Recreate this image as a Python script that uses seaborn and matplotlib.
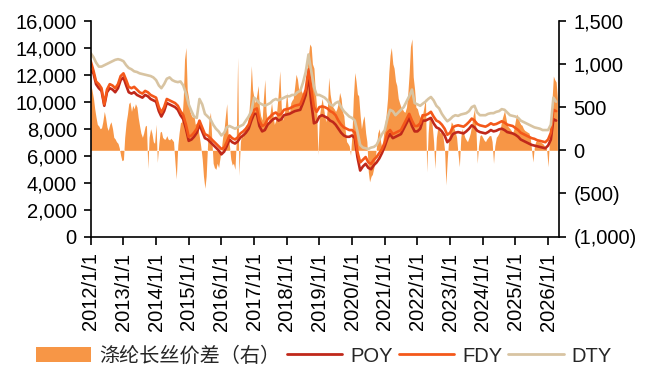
import numpy as np
import pandas as pd
import matplotlib
matplotlib.use("Agg")
import matplotlib.pyplot as plt
import matplotlib.dates as mdates
from matplotlib.ticker import FuncFormatter, MultipleLocator
from matplotlib.patches import Patch
from matplotlib.lines import Line2D
import seaborn as sns

# Monthly prices (yuan/ton), Jan 2012 - Apr 2026, one row per year
poy = [
    12300, 12100, 11300, 11000, 10800, 9700, 10700, 11000, 10900, 10700, 11000, 11600,
    11800, 11200, 10700, 10600, 10700, 10500, 10400, 10300, 10500, 10400, 10200, 10100,
    10000, 9300, 8900, 9300, 9900, 9800, 9700, 9600, 9400, 9000, 8700, 8000,
    7100, 7200, 7400, 7700, 8300, 7800, 7300, 7200, 7000, 6800, 6600, 6400,
    6100, 6300, 6700, 7200, 7000, 6900, 7050, 7350, 7500, 7700, 8000, 8600,
    9100, 9100, 8200, 7800, 7900, 8300, 8500, 8700, 8800, 8600, 8700, 9000,
    9050, 9100, 9200, 9300, 9350, 9400, 9900, 10500, 12000, 10000, 8400, 8500,
    8900, 9000, 8900, 8800, 8600, 8500, 8300, 8000, 7700, 7500, 7400, 7400,
    7500, 7300, 5900, 4900, 5200, 5400, 5100, 5000, 5300, 5500, 5800, 6200,
    6700, 7300, 7600, 7300, 7400, 7500, 7600, 8000, 8400, 8800, 8200, 7800,
    7800, 8000, 8600, 8600, 8700, 8800, 8400, 8100, 8000, 7800, 7500, 7000,
    7200, 7600, 7700, 7750, 7700, 7650, 7800, 8000, 8250, 8100, 7850, 7750,
    7700, 7650, 7750, 7900, 7800, 7850, 7950, 8000, 7900, 7750, 7700, 7650,
    7550, 7400, 7200, 7100, 7000, 6900, 6800, 6750, 6700, 6650, 6600, 6550,
    6750, 7200, 8700, 8600,
]
fdy = [
    13000, 12300, 11500, 11300, 11000, 9800, 10900, 11300, 11200, 11000, 11300, 11900,
    12100, 11600, 11100, 11000, 11100, 10900, 10700, 10600, 10800, 10700, 10500, 10400,
    10300, 9600, 9200, 9600, 10200, 10100, 10000, 9900, 9700, 9300, 9000, 8300,
    7400, 7500, 7700, 8000, 8600, 8100, 7600, 7500, 7300, 7100, 6900, 6700,
    6500, 6600, 7000, 7500, 7300, 7200, 7350, 7650, 7800, 8000, 8300, 8900,
    9400, 9500, 8600, 8200, 8300, 8700, 8900, 9100, 9200, 9000, 9100, 9400,
    9450, 9500, 9600, 9700, 9750, 9800, 10300, 10900, 12400, 11000, 9600, 9250,
    9600, 9650, 9600, 9500, 9300, 9200, 9000, 8600, 8300, 8100, 8000, 7900,
    7900, 7700, 6300, 5500, 5700, 5900, 5500, 5400, 5700, 5900, 6200, 6500,
    7000, 7700, 7900, 7600, 7700, 7800, 7900, 8300, 8700, 9100, 8600, 8200,
    8200, 8400, 9000, 9000, 9100, 9250, 8900, 8600, 8500, 8300, 8000, 7550,
    7700, 8100, 8200, 8250, 8200, 8150, 8300, 8500, 8750, 8600, 8350, 8250,
    8200, 8150, 8250, 8400, 8300, 8350, 8450, 8550, 8450, 8300, 8250, 8200,
    8050, 7900, 7700, 7600, 7500, 7400, 7300, 7250, 7150, 7100, 7050, 7000,
    7200, 7700, 9400, 9300,
]
dty = [
    13600, 13300, 12900, 12600, 12600, 12700, 12800, 12900, 13000, 13100, 13150, 13100,
    13000, 12700, 12500, 12400, 12250, 12200, 12100, 12050, 12000, 11950, 11900, 11800,
    11600, 11200, 11000, 11300, 11700, 11800, 11600, 11500, 11450, 11500, 11200, 10600,
    9800, 9300, 8900, 8800, 10200, 9800, 9100, 8900, 8700, 8300, 8000, 7800,
    7500, 7700, 8100, 8200, 8100, 8000, 8100, 8200, 8300, 8600, 8900, 9300,
    10300, 10100, 9900, 9800, 9700, 9800, 9900, 10100, 10200, 10100, 10200, 10300,
    10400, 10400, 10500, 10500, 10700, 10800, 11400, 12200, 13500, 12300, 11100, 10500,
    10500, 10400, 10300, 10100, 9800, 9700, 9900, 10000, 9600, 9300, 9100, 8900,
    8800, 8600, 7800, 6800, 6600, 6550, 6500, 6600, 6650, 6800, 7200, 7600,
    7900, 8800, 9400, 9300, 9000, 9200, 9400, 9600, 10000, 10400, 10900, 9900,
    9800, 9700, 9850, 10000, 10200, 10350, 10100, 9700, 9500, 9100, 8800, 8550,
    8700, 8900, 9000, 8950, 9050, 9100, 9150, 9300, 9600, 9700, 9200, 9000,
    9000, 9000, 9100, 9150, 9150, 9250, 9300, 9450, 9400, 9200, 9000, 8950,
    8900, 8800, 8600, 8500, 8400, 8300, 8200, 8100, 8050, 8000, 7900, 7900,
    7900, 8300, 10300, 10000,
]

# Filament price spread (right axis), twice a month, Jan 2012 - Apr 2026
spread = [
    760, 700, 600, 480, 380, 300, 280, 250, 260, 330, 450, 380, 270, 230, 300, 330, 250, 150, 130, 100, 80, 30, -60, -120,
    -110, 150, 330, 420, 540, 560, 450, 520, 480, 540, 500, 380, 280, 200, 150, 200, 280, 290, -210, 150, 250, 200, 100, 80,
    300, -140, 80, 210, 220, 150, 130, 130, 170, 130, 120, 140, 120, 100, -150, -330, 60, 200, 320, 330, 600, 1050, 1190, 700,
    600, 450, 400, 380, 400, 300, 320, 250, 150, 50, -100, -300, -440, -300, 100, 350, 440, 150, -150, -200, -220, -150, -200, -100,
    20, 150, 250, 400, 540, 200, 50, -100, -170, -150, -220, 100, 1075, -290, 100, 200, 150, 250, 290, 300, 400, 600, 980, 700,
    600, 550, 650, 750, 500, 400, 350, 600, 820, 450, 300, 350, 450, 550, 400, 300, 350, 500, 700, 920, 500, 350, 400, 500,
    670, 500, 430, 550, 580, 600, 750, 880, 820, 700, 730, 680, 650, 630, 700, 900, 1100, 1230, 1200, 1000, 950, 700, 500, -50,
    400, 500, 600, 500, 400, 330, 500, 845, 650, 560, 500, 480, 450, 480, 550, 670, 600, 450, 400, 250, 100, 80, 50, -58,
    200, 600, 900, 800, 650, 630, 400, 250, 350, 400, 200, 100, -250, -365, -300, -280, -200, -100, 50, 200, 250, 100, 20, 150,
    300, 400, 600, 900, 1100, 1190, 1000, 950, 800, 750, 600, 550, 500, 480, 450, 440, 500, 650, 900, 1200, 1290, 850, 700, 500,
    480, 420, 380, 400, 420, 500, 600, -250, 200, 400, 350, 290, 100, -211, 150, 250, 230, 200, 210, 150, 0, -400, -100, 100,
    250, 330, 300, 250, 210, 150, -50, -190, 150, 250, 200, 150, 120, 100, 150, 200, 300, 400, 480, 300, -150, 50, 170, 180,
    150, 120, 100, 130, 150, 170, 170, 100, -150, 50, 150, 170, 200, 250, 350, 400, 460, 380, 290, 270, 250, 230, 200, 250,
    350, 420, 380, 330, 300, 290, 250, 230, 220, 210, 200, 150, 0, -135, 50, 100, 120, 100, 100, 90, 80, 60, 40, 20,
    -190, 100, 300, 600, 860, 820, 790, 600,
]

series_names = ["POY", "FDY", "DTY"]
spread_label = "涤纶长丝价差（右）"
colors = {"POY": "#C0281A", "FDY": "#F4581A", "DTY": "#D8C4A2"}
spread_color = "#F79646"

months = pd.date_range("2012-01-01", periods=len(poy), freq="MS")
half_months = pd.date_range("2012-01-01", periods=len(spread), freq="SMS")

prices = pd.DataFrame({"date": months, "POY": poy, "FDY": fdy, "DTY": dty})
long_prices = prices.melt(id_vars="date", var_name="series", value_name="price")

sns.set_style("ticks")
plt.rcParams["font.family"] = ["Liberation Sans", "Noto Sans CJK SC", "DejaVu Sans"]

fig = plt.figure(figsize=(6.54, 3.67), dpi=100)
ax = fig.add_axes([90.7 / 654, 1 - 236.7 / 367, (559 - 90.7) / 654, 216 / 367])
ax2 = ax.twinx()

# Spread area on the right axis, behind the price lines
ax2.fill_between(half_months, 0, spread, color=spread_color, linewidth=0, zorder=1)
ax2.set_ylim(-1000, 1500)
ax2.yaxis.set_major_locator(MultipleLocator(500))
ax2.yaxis.set_major_formatter(
    FuncFormatter(lambda v, _: f"({abs(int(v)):,})" if v < 0 else f"{int(v):,}")
)

ax.set_zorder(ax2.get_zorder() + 1)
ax.patch.set_visible(False)
sns.lineplot(data=long_prices, x="date", y="price", hue="series",
             hue_order=series_names, palette=colors, linewidth=1.9,
             legend=False, ax=ax)
ax.set_ylim(0, 16000)
ax.yaxis.set_major_locator(MultipleLocator(2000))
ax.yaxis.set_major_formatter(FuncFormatter(lambda v, _: f"{int(v):,}"))
ax.set_xlim(pd.Timestamp("2012-01-01"), pd.Timestamp("2026-05-03"))
ax.xaxis.set_major_locator(mdates.YearLocator())
ax.xaxis.set_major_formatter(FuncFormatter(
    lambda v, _: f"{mdates.num2date(v).year}/1/1"))
ax.set_xlabel("")
ax.set_ylabel("")

for a in (ax, ax2):
    a.spines["top"].set_visible(False)
    for side in ("left", "right", "bottom"):
        a.spines[side].set_linewidth(1.2)
        a.spines[side].set_color("black")
ax.spines["right"].set_visible(False)
ax2.spines["left"].set_visible(False)
ax2.spines["bottom"].set_visible(False)

ax.tick_params(axis="y", length=5, width=1.2, pad=5, labelsize=14.5, colors="black")
ax.tick_params(axis="x", length=5.8, width=1.2, pad=5.5, labelsize=14.5,
               labelrotation=90, colors="black")
ax2.tick_params(axis="y", length=5, width=1.2, pad=5.5, labelsize=14.5, colors="black")

handles = [Patch(facecolor=spread_color, edgecolor="none")] + [
    Line2D([], [], color=colors[n], linewidth=2.0) for n in series_names]
labels = [spread_label] + series_names
fig.legend(handles, labels, loc="center", bbox_to_anchor=(324 / 654, 1 - 356 / 367),
           ncol=4, frameon=False, fontsize=14.5, handlelength=2.75,
           handleheight=0.8, handletextpad=0.4, columnspacing=0.3,
           borderaxespad=0, borderpad=0)

fig.savefig("out.png", dpi=100)
